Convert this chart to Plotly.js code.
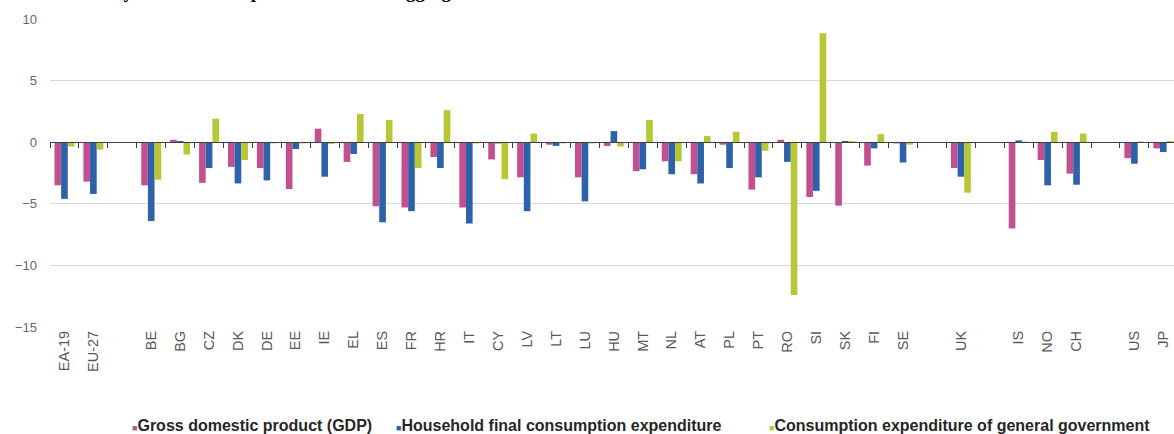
<!DOCTYPE html>
<html>
<head>
<meta charset="utf-8">
<script src="https://cdn.plot.ly/plotly-3.0.1.min.js"></script>
<style>
  html, body { margin: 0; padding: 0; background: #ffffff; overflow: hidden; }
  #chart { width: 1174px; height: 434px; }
</style>
</head>
<body>
<div id="chart"></div>
<script>
// Category slots along the x axis; null marks an empty slot separating groups
const slots = ['EA-19', 'EU-27', null,
  'BE', 'BG', 'CZ', 'DK', 'DE', 'EE', 'IE', 'EL', 'ES', 'FR', 'HR', 'IT', 'CY', 'LV', 'LT', 'LU',
  'HU', 'MT', 'NL', 'AT', 'PL', 'PT', 'RO', 'SI', 'SK', 'FI', 'SE', null,
  'UK', null,
  'IS', 'NO', 'CH', null,
  'US', 'JP'];

// Percentage change per country (same order as the non-empty slots)
const gdp = [-3.5, -3.2, -3.5, 0.2, -3.3, -2.0, -2.1, -3.8, 1.1, -1.6, -5.2, -5.3, -1.2, -5.3, -1.4, -2.85, -0.2, -2.85,
  -0.3, -2.35, -1.55, -2.6, -0.2, -3.85, 0.2, -4.45, -5.15, -1.9, -0.1,
  -2.1, -7.0, -1.45, -2.55, -1.3, -0.5];
const household = [-4.6, -4.2, -6.4, 0.1, -2.1, -3.35, -3.1, -0.55, -2.8, -0.95, -6.5, -5.6, -2.1, -6.6, -0.1, -5.6, -0.3, -4.8,
  0.9, -2.2, -2.6, -3.35, -2.1, -2.85, -1.6, -3.95, 0.1, -0.5, -1.65,
  -2.8, 0.15, -3.5, -3.45, -1.75, -0.8];
const government = [-0.35, -0.6, -3.05, -1.0, 1.9, -1.45, -0.1, -0.1, -0.15, 2.3, 1.8, -2.1, 2.6, -0.1, -3.0, 0.7, -0.1, -0.1,
  -0.35, 1.8, -1.55, 0.5, 0.85, -0.7, -12.4, 8.85, 0.1, 0.65, -0.2,
  -4.1, 0.05, 0.85, 0.7, 0.05, 0.1];

const seriesNames = ['Gross domestic product (GDP)', 'Household final consumption expenditure',
  'Consumption expenditure of general government'];
const seriesColors = ['#c2508f', '#2d62ab', '#b7c736'];

const yTicks = [10, 5, 0, -5, -10, -15];
const yRange = [-15, 10];

const countries = slots.filter(s => s !== null);
const slotIndex = countries.map(c => slots.indexOf(c));
const boundaries = slots.map((s, i) => i - 0.5).concat([slots.length - 0.5]);
const xRange = [-0.5, slots.length - 0.63];

const traces = [gdp, household, government].map((vals, i) => ({
  type: 'bar',
  x: slotIndex,
  y: vals,
  name: seriesNames[i],
  marker: { color: seriesColors[i], line: { width: 0 } },
  showlegend: false,
  hoverinfo: 'skip'
}));

// Legend entries written as text with a coloured square in front
const legendLeft = [130, 394, 767];
const plotLeft = 50, plotWidth = 1124;
const legendNotes = seriesNames.map((name, i) => ({
  text: '<span style="color:' + seriesColors[i] + ';font-size:9px">\u25A0</span>' + name,
  xref: 'paper', yref: 'paper',
  x: (legendLeft[i] - plotLeft) / plotWidth, xanchor: 'left',
  y: 0, yanchor: 'middle', yshift: -98,
  showarrow: false,
  font: { family: 'Liberation Sans, Arial, sans-serif', size: 16, color: '#262626', weight: 'bold' }
}));

const titleNote = {
  text: '<b>Economy and GDP components: national aggregates</b>',
  xref: 'paper', yref: 'paper', x: 0, xanchor: 'left', xshift: 5,
  y: 1, yanchor: 'bottom', yshift: 15,
  showarrow: false,
  font: { family: 'Liberation Serif, Times New Roman, serif', size: 19, color: '#000000' }
};

const layout = {
  width: 1174,
  height: 434,
  margin: { l: plotLeft, r: 0, t: 19, b: 107, pad: 0 },
  paper_bgcolor: '#ffffff',
  plot_bgcolor: '#ffffff',
  barmode: 'group',
  bargap: 0.31,
  bargroupgap: 0,
  showlegend: false,
  xaxis: {
    range: xRange,
    tickmode: 'array',
    tickvals: slotIndex,
    ticktext: countries,
    tickangle: -90,
    ticks: '',
    showgrid: false,
    zeroline: false,
    showline: false,
    tickfont: { family: 'Liberation Sans, Arial, sans-serif', size: 14.5, color: '#595959' }
  },
  xaxis2: {
    overlaying: 'x',
    anchor: 'free',
    position: (0 - yRange[0]) / (yRange[1] - yRange[0]),
    range: xRange,
    tickmode: 'array',
    tickvals: boundaries,
    showticklabels: false,
    ticks: 'outside',
    ticklen: 5,
    tickwidth: 1,
    tickcolor: '#404040',
    showline: true,
    linecolor: '#404040',
    linewidth: 1,
    showgrid: false,
    zeroline: false
  },
  yaxis: {
    range: yRange,
    tickmode: 'array',
    tickvals: yTicks,
    ticks: '',
    showline: false,
    zeroline: false,
    gridcolor: '#d9d9d9',
    gridwidth: 1,
    ticklabelstandoff: 12,
    tickfont: { family: 'Liberation Sans, Arial, sans-serif', size: 13, color: '#666666' }
  },
  annotations: [titleNote].concat(legendNotes)
};

// Empty trace so the zero-line axis is laid out
traces.push({ type: 'scatter', mode: 'markers', x: [slotIndex[0]], y: [null], xaxis: 'x2', yaxis: 'y', showlegend: false, hoverinfo: 'skip' });

Plotly.newPlot('chart', traces, layout, { staticPlot: true, displayModeBar: false });
</script>
</body>
</html>
